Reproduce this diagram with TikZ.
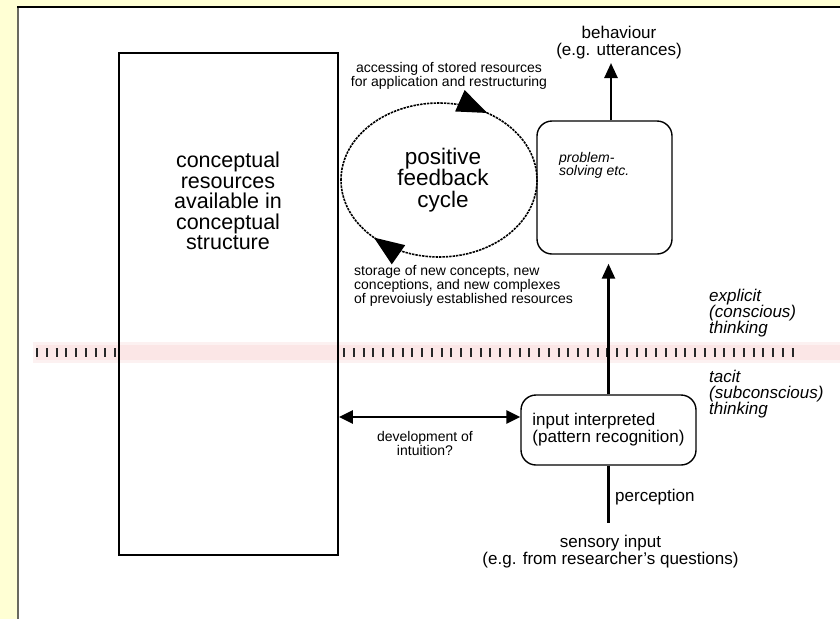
\documentclass[tikz,border=0pt]{standalone}
\usepackage{fontspec}
\setmainfont{Liberation Sans}
\usetikzlibrary{arrows.meta,decorations.markings}
\definecolor{pagebg}{RGB}{255,255,212}
\definecolor{bandpink}{RGB}{251,228,228}
\definecolor{framegray}{RGB}{105,105,95}

\begin{document}
\begin{tikzpicture}[x=1pt, y=-1pt,
    bigbox/.style={draw, line width=1.8pt, minimum width=219pt, minimum height=502pt},
    rbox/.style={draw, line width=1.4pt, rounded corners=15pt},
    arr/.style={line width=2.6pt, -{Triangle[length=15pt,width=13pt]}},
    dblarr/.style={line width=2.6pt, {Triangle[length=14pt,width=13pt]}-{Triangle[length=14pt,width=13pt]}},
    lbl/.style={inner sep=0pt, align=center},
    fbig/.style={font=\fontsize{21.5}{20.5}\selectfont},
    fhuge/.style={font=\fontsize{22.5}{21.5}\selectfont},
    fmid/.style={font=\fontsize{17}{17}\selectfont},
    fsmall/.style={font=\fontsize{14}{14}\selectfont},
    fital/.style={font=\itshape\fontsize{17}{16}\selectfont},
    ticks/.style={line width=9pt, dash pattern=on 2.2pt off 7.55pt, black!85},
    cyc/.style={line width=1.6pt, dash pattern=on 2.4pt off 1pt, postaction={decorate},
        decoration={markings,
            mark=at position 0.34 with {\arrow{Triangle[length=30pt,width=23pt]}},
            mark=at position 0.875 with {\arrow{Triangle[length=30pt,width=23pt]}}}},
    ]
    \useasboundingbox (0,0) rectangle (840,619);

    % page and frame
    \fill[pagebg] (0,0) rectangle (840,619);
    \fill[white] (18,8) rectangle (840,619);
    \draw[framegray, line width=1.6pt] (17.8,8) -- (17.8,619);
    \draw[black, line width=1.6pt] (17,7.2) -- (840,7.2);

    % explicit / tacit border
    \fill[bandpink, opacity=0.5] (33,342) rectangle (840,363);
    \fill[bandpink, opacity=0.8] (36,345) rectangle (840,360);
    \draw[ticks] (36,352) -- (118,352);
    \draw[ticks] (343,352) -- (800,352);

    % conceptual structure
    \node[bigbox] (res) at (228.5,304) {};
    \node[lbl, fbig] (restext) at (228,201) {conceptual\\resources\\available in\\conceptual\\structure};

    % feedback cycle
    \draw[cyc] (341,180) arc[start angle=180, end angle=540, x radius=98, y radius=77];
    \node[lbl, fhuge] (cyctext) at (443,180) {positive\\feedback\\cycle};
    \node[lbl, fsmall] (access) at (449,76) {accessing of stored resources\\for application and restructuring};
    \node[lbl, fsmall, anchor=west, align=left] (storage) at (354,286) {storage of new concepts, new\\conceptions, and new complexes\\of prevoiusly established resources};

    % problem solving and behaviour
    \node[rbox, minimum width=135pt, minimum height=133pt] (solve) at (604.5,187.5) {};
    \node[lbl, anchor=north west, align=left, font=\itshape\fontsize{14}{13.5}\selectfont] (solvetext) at (559,152) {problem-\\solving etc.};
    \node[lbl, fmid] (behav) at (619,43) {behaviour\\(e.g. utterances)};
    \coordinate (behtip) at (611,63);
    \draw[arr] (solve.north -| behtip) -- (behtip);

    % input side
    \node[rbox, minimum width=175pt, minimum height=70pt, fmid, align=left, inner sep=0pt] (interp) at (608.5,430) {input interpreted\\(pattern recognition)};
    \node[lbl, fmid] (sensory) at (610.5,552) {sensory input\\(e.g. from researcher's questions)};
    \node[lbl, fmid, anchor=west] (percep) at (615,497) {perception};
    \draw[line width=2.6pt, shorten >=12pt] (interp.south) -- (interp.south |- sensory.north);
    \draw[arr, shorten >=9pt] (interp.north) -- (interp.north |- solve.south);

    % intuition
    \coordinate (devend) at ([yshift=13pt]interp.west);
    \draw[dblarr] (res.east |- devend) -- (devend);
    \node[lbl, fsmall] (devlbl) at (425,443) {development of\\intuition?};

    % conscious levels
    \node[lbl, fital, anchor=west, align=left] (explicit) at (709,313) {explicit\\(conscious)\\thinking};
    \node[lbl, fital, anchor=west, align=left] (tacit) at (709,394) {tacit\\(subconscious)\\thinking};
\end{tikzpicture}
\end{document}
